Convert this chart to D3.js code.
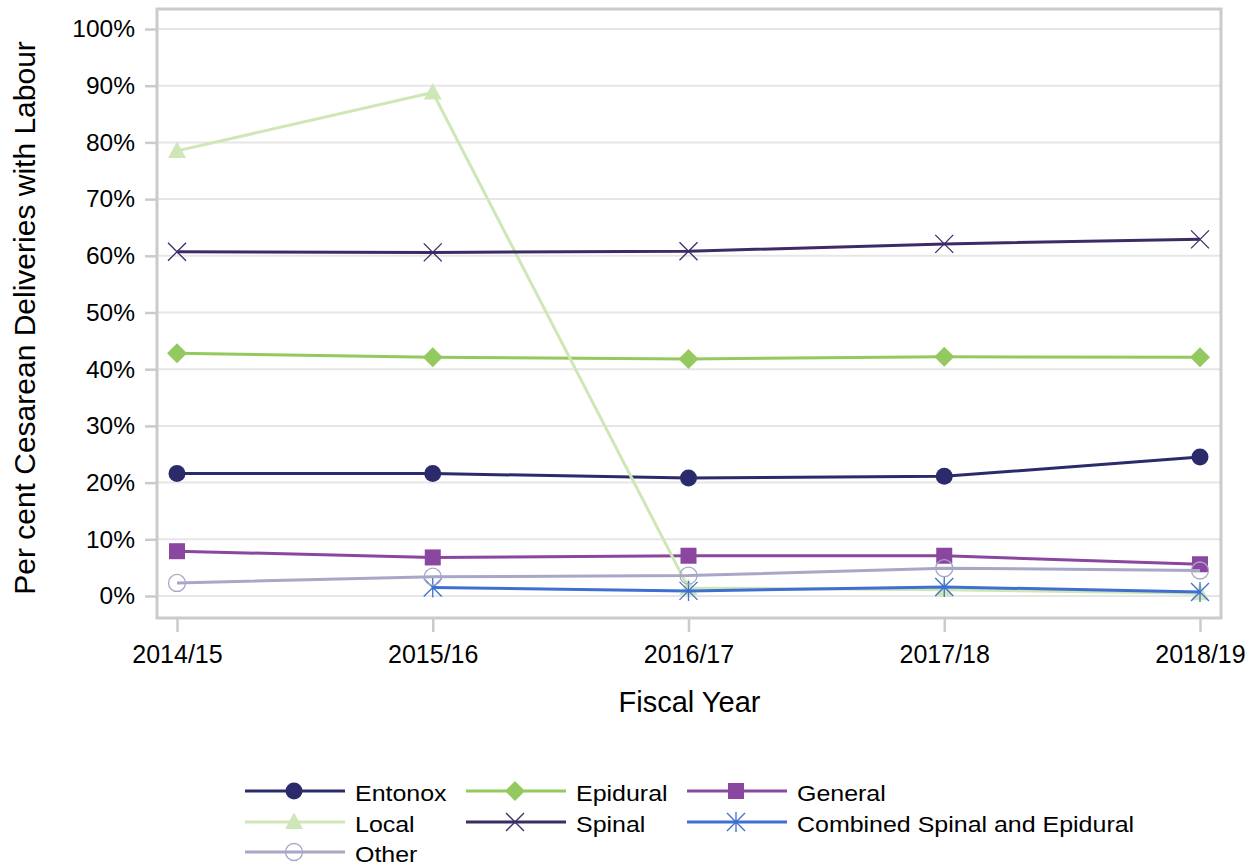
<!DOCTYPE html>
<html><head><meta charset="utf-8">
<script src="https://cdn.jsdelivr.net/npm/d3@7"></script>
<style>body{margin:0;background:#fff;} svg{display:block;font-family:"Liberation Sans",Arial,sans-serif;}</style>
</head><body>
<svg id="chart" width="1256" height="865"></svg>
<script>
const years = ["2014/15","2015/16","2016/17","2017/18","2018/19"];
const yTicks = [0,10,20,30,40,50,60,70,80,90,100];
const seriesNames = ["Entonox","Epidural","General","Local","Spinal","Combined Spinal and Epidural","Other"];
const entonox = [21.6, 21.6, 20.8, 21.1, 24.5];
const epidural = [42.8, 42.1, 41.8, 42.2, 42.1];
const general = [7.9, 6.8, 7.1, 7.1, 5.6];
const local = [78.5, 88.8, 1.4, 1.1, 0.5];
const spinal = [60.7, 60.6, 60.8, 62.1, 62.9];
const cse = [null, 1.5, 0.9, 1.6, 0.7];
const other = [2.3, 3.4, 3.6, 4.9, 4.5];
const colors = ["#2b2b6b","#94c95f","#8b469f","#cfe7b6","#3d2b66","#3e6fd1","#a8a7c8"];
const markers = ["circle","diamond","square","triangle","x","asterisk","opencircle"];
const values = [entonox, epidural, general, local, spinal, cse, other];

const svg = d3.select("#chart");
const pLeft = 157, pRight = 1221, pTop = 9, pBottom = 618;
const x = d3.scalePoint().domain(years).range([177, 1200]);
const y = d3.scaleLinear().domain([0,100]).range([596, 29]);
const FONT = "Liberation Sans, Arial, sans-serif";

// grid
svg.append("g").selectAll("line").data(yTicks).join("line")
  .attr("x1", pLeft).attr("x2", pRight).attr("y1", d=>y(d)).attr("y2", d=>y(d))
  .attr("stroke","#e6e6e6").attr("stroke-width",2);

// frame
svg.append("rect").attr("x",pLeft).attr("y",pTop).attr("width",pRight-pLeft).attr("height",pBottom-pTop)
  .attr("fill","none").attr("stroke","#cbcbcb").attr("stroke-width",3);

// y axis
const yAxis = svg.append("g").attr("transform",`translate(${pLeft},0)`)
  .call(d3.axisLeft(y).tickValues(yTicks).tickFormat(d=>d+"%").tickSize(12).tickPadding(10));
yAxis.select(".domain").remove();
yAxis.selectAll(".tick line").attr("stroke","#cbcbcb").attr("stroke-width",2.5);
yAxis.selectAll(".tick text").attr("font-size",24.5).attr("fill","#000").attr("font-family",FONT);

// x axis
const xAxis = svg.append("g").attr("transform",`translate(0,${pBottom})`)
  .call(d3.axisBottom(x).tickSize(14).tickPadding(13));
xAxis.select(".domain").remove();
xAxis.selectAll(".tick line").attr("stroke","#cbcbcb").attr("stroke-width",2.5);
xAxis.selectAll(".tick text").attr("font-size",25).attr("fill","#000").attr("font-family",FONT);

// titles
svg.append("text").attr("x", 689.5).attr("y", 712).attr("text-anchor","middle")
  .attr("font-size",29).attr("fill","#000").text("Fiscal Year");
svg.append("text").attr("transform","translate(35,318) rotate(-90)").attr("text-anchor","middle")
  .attr("font-size",30).attr("fill","#000").text("Per cent Cesarean Deliveries with Labour");

function drawMarker(g, type, color, cx, cy){
  const s = g.append("g").attr("transform",`translate(${cx},${cy})`);
  if(type==="circle") s.append("circle").attr("r",8.5).attr("fill",color);
  else if(type==="diamond") s.append("path").attr("d","M0,-10L10,0L0,10L-10,0Z").attr("fill",color);
  else if(type==="square") s.append("rect").attr("x",-8).attr("y",-8).attr("width",16).attr("height",16).attr("fill",color);
  else if(type==="triangle") s.append("path").attr("d","M0,-9.5L9,7L-9,7Z").attr("fill",color);
  else if(type==="x") s.append("path").attr("d","M-9,-9L9,9M-9,9L9,-9").attr("stroke",color).attr("stroke-width",1.3).attr("fill","none");
  else if(type==="asterisk") s.append("path").attr("d","M-9,-9L9,9M-9,9L9,-9M0,-10L0,10").attr("stroke",color).attr("stroke-width",1.3).attr("fill","none");
  else if(type==="opencircle") s.append("circle").attr("r",8.5).attr("fill","none").attr("stroke",color).attr("stroke-width",1.3);
}

const line = d3.line().defined(d=>d[1]!==null).x(d=>x(d[0])).y(d=>y(d[1]));
values.forEach((vals,i)=>{
  const g = svg.append("g");
  const pts = years.map((yr,j)=>[yr, vals[j]]);
  g.append("path").attr("d", line(pts)).attr("fill","none").attr("stroke",colors[i]).attr("stroke-width",3);
  pts.filter(p=>p[1]!==null).forEach(p=>drawMarker(g, markers[i], colors[i], x(p[0]), y(p[1])));
});

// legend
const legCols = [245, 466, 687];
const legRows = [791, 822, 852];
seriesNames.forEach((name,i)=>{
  const cx = legCols[i%3], cy = legRows[Math.floor(i/3)];
  const g = svg.append("g");
  g.append("line").attr("x1",cx).attr("x2",cx+100).attr("y1",cy).attr("y2",cy)
    .attr("stroke",colors[i]).attr("stroke-width",3);
  drawMarker(g, markers[i], colors[i], cx+49, cy);
  g.append("text").attr("transform",`translate(${cx+110},${cy+9.5}) scale(1.12,1)`)
    .attr("font-size",22.3).attr("fill","#000").text(name);
});
</script>
</body></html>
